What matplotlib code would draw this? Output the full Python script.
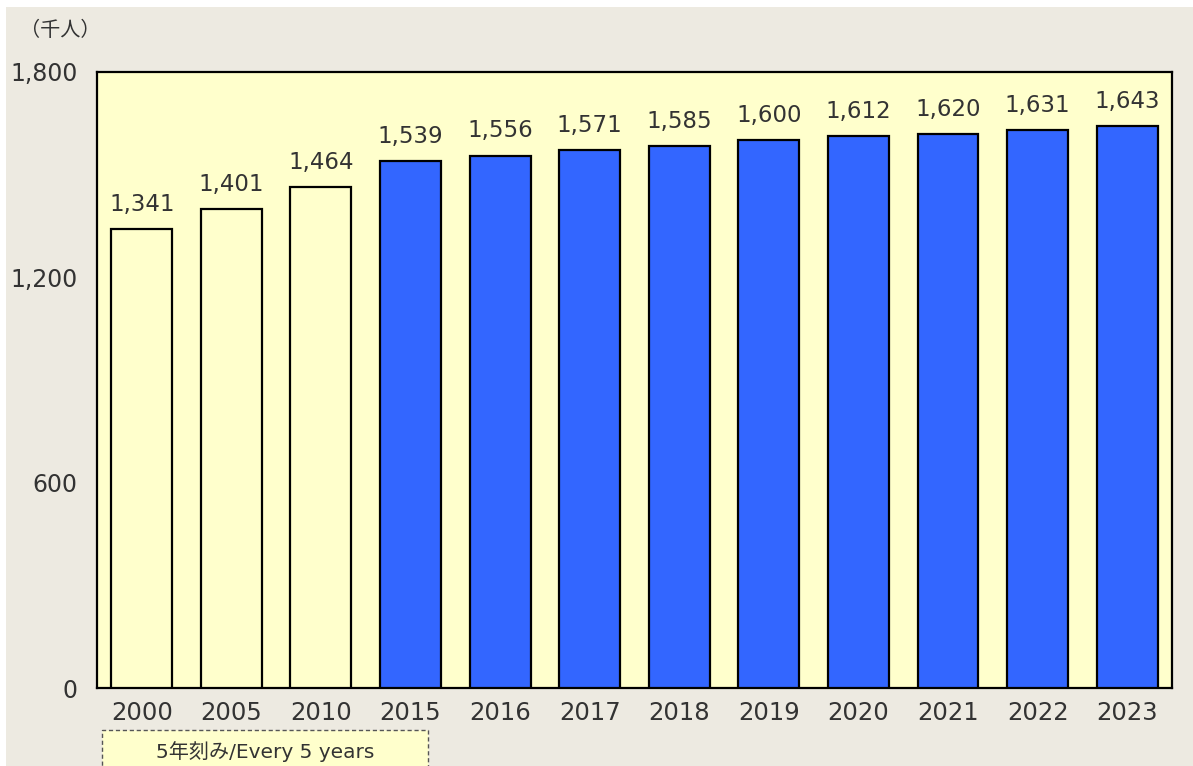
import matplotlib
matplotlib.use('Agg')
import matplotlib.pyplot as plt
from matplotlib.patches import Rectangle

plt.rcParams['font.family'] = ['DejaVu Sans', 'Noto Sans CJK JP']

# data
years = ['2000', '2005', '2010', '2015', '2016', '2017', '2018', '2019', '2020', '2021', '2022', '2023']
values = [1341, 1401, 1464, 1539, 1556, 1571, 1585, 1600, 1612, 1620, 1631, 1643]
yticks = [0, 600, 1200, 1800]
five_year = 3  # first three are 5-year steps

bg = '#EDEAE1'
plot_bg = '#FFFFCC'
blue = '#3366FF'
txt = '#333333'

fig = plt.figure(figsize=(11.93, 7.66), dpi=100, facecolor=bg)
ax = fig.add_axes([97 / 1193, 1 - 688 / 766, (1172 - 97) / 1193, (688 - 72) / 766])
ax.set_facecolor(plot_bg)

x = list(range(len(years)))
colors = [plot_bg if i < five_year else blue for i in x]
ax.bar(x, values, width=0.68, color=colors, edgecolor='black', linewidth=1.6, zorder=3)

for xi, v in zip(x, values):
    ax.text(xi, v + 38, '{:,}'.format(v), ha='center', va='bottom', fontsize=16.5, color=txt)

ax.set_xlim(-0.5, len(years) - 0.5)
ax.set_ylim(0, 1800)
ax.set_xticks(x)
ax.set_xticklabels(years, fontsize=17.5, color=txt)
ax.set_yticks(yticks)
ax.set_yticklabels(['{:,}'.format(t) for t in yticks], fontsize=17, color=txt)
ax.tick_params(length=0)
ax.tick_params(axis='x', pad=9)
ax.tick_params(axis='y', pad=14)
for s in ax.spines.values():
    s.set_linewidth(1.6)
    s.set_color('black')

# unit label
fig.text(20 / 1193, 1 - 30 / 766, '（千人）', fontsize=14.5, color=txt, va='center', ha='left',
         family=['Noto Sans CJK JP', 'DejaVu Sans'])

# dashed box for 5-year step
box = Rectangle((102 / 1193, 1 - 790 / 766), (428 - 102) / 1193, 60 / 766,
                transform=fig.transFigure, facecolor=plot_bg, edgecolor='#555555',
                linestyle=(0, (3, 2)), linewidth=1.0)
fig.patches.append(box)
fig.text(265 / 1193, 1 - 752 / 766, '5年刻み/Every 5 years', fontsize=14.5, color=txt,
         ha='center', va='center')

# white edge strips
fig.patches.append(Rectangle((0, 1 - 7 / 766), 1, 7 / 766, transform=fig.transFigure,
                             facecolor='white', edgecolor='none'))
fig.patches.append(Rectangle((0, 0), 6 / 1193, 1, transform=fig.transFigure,
                             facecolor='white', edgecolor='none'))

fig.savefig('out.png', dpi=100, facecolor=bg)
